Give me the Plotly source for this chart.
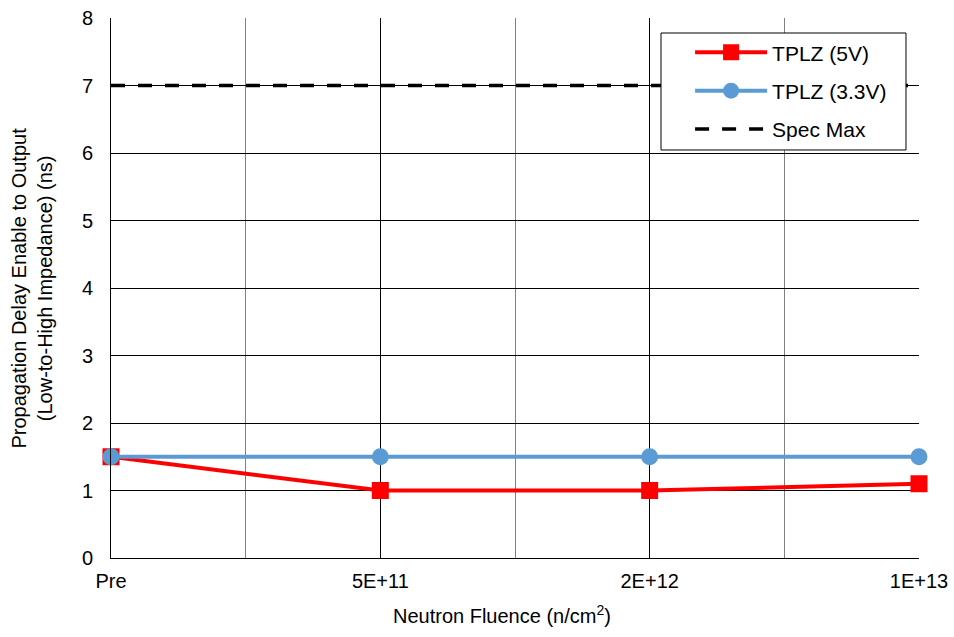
import plotly.graph_objects as go

categories = ["Pre", "5E+11", "2E+12", "1E+13"]
x_pos = [0, 1, 2, 3]
tplz_5v = [1.5, 1.0, 1.0, 1.1]
tplz_33v = [1.5, 1.5, 1.5, 1.5]
spec_max = [7, 7, 7, 7]

font_family = "Liberation Sans, Arial, sans-serif"

fig = go.Figure()
fig.add_trace(go.Scatter(
    x=x_pos, y=tplz_5v, name="TPLZ (5V)", mode="lines+markers",
    line=dict(color="#ff0000", width=4),
    marker=dict(symbol="square", size=17, color="#ff0000"),
    cliponaxis=False, legendgroup="a"))
fig.add_trace(go.Scatter(
    x=x_pos, y=tplz_33v, name="TPLZ (3.3V)", mode="lines+markers",
    line=dict(color="#5b9bd5", width=4),
    marker=dict(symbol="circle", size=17, color="#5b9bd5"),
    cliponaxis=False, legendgroup="b"))
fig.add_trace(go.Scatter(
    x=x_pos, y=spec_max, name="Spec Max", mode="lines",
    line=dict(color="#000000", width=3.5, dash="14px,13px"),
    legendgroup="c"))

# legend frame
fig.add_shape(type="rect", xref="paper", yref="paper",
              x0=0.6807, x1=0.9839, y0=0.7556, y1=0.9722,
              line=dict(color="#000000", width=1), fillcolor="white", layer="above")

# axis titles
fig.add_annotation(text="Neutron Fluence (n/cm<sup>2</sup>)", xref="paper", yref="paper",
                   x=0.4845, y=0, yshift=-56, xanchor="center", yanchor="middle",
                   showarrow=False, font=dict(size=20))
fig.add_annotation(text="Propagation Delay Enable to Output<br>(Low-to-High Impedance) (ns)",
                   xref="paper", yref="paper", x=0, y=0.5, xshift=-79.5,
                   xanchor="center", yanchor="middle", textangle=-90,
                   showarrow=False, font=dict(size=20))

fig.update_layout(
    width=954, height=637,
    margin=dict(l=111, r=35, t=18, b=79),
    paper_bgcolor="white", plot_bgcolor="white",
    font=dict(family=font_family, size=20, color="#000000"),
    showlegend=True,
    legend=dict(
        x=0.7167, y=0.9737, xanchor="left", yanchor="top",
        bgcolor="rgba(0,0,0,0)", borderwidth=0,
        font=dict(size=21), tracegroupgap=8,
        itemwidth=72,
    ),
    xaxis=dict(
        range=[0, 3], tickmode="array", tickvals=x_pos, ticktext=categories,
        showgrid=True, gridcolor="#000000", gridwidth=1,
        minor=dict(dtick=0.5, tick0=0, showgrid=True, gridcolor="#808080", gridwidth=1),
        showline=True, linecolor="#000000", linewidth=1,
        ticks="", zeroline=False, ticklabelstandoff=5, automargin=False,
        tickfont=dict(size=20),
    ),
    yaxis=dict(
        range=[0, 8], dtick=1, tick0=0,
        showgrid=True, gridcolor="#000000", gridwidth=1,
        showline=True, linecolor="#000000", linewidth=1,
        ticks="", zeroline=False, ticklabelstandoff=13, automargin=False,
        tickfont=dict(size=20),
    ),
)
fig.write_html("out.html", config={"displayModeBar": False},
               post_script="document.body.style.margin='0';")
